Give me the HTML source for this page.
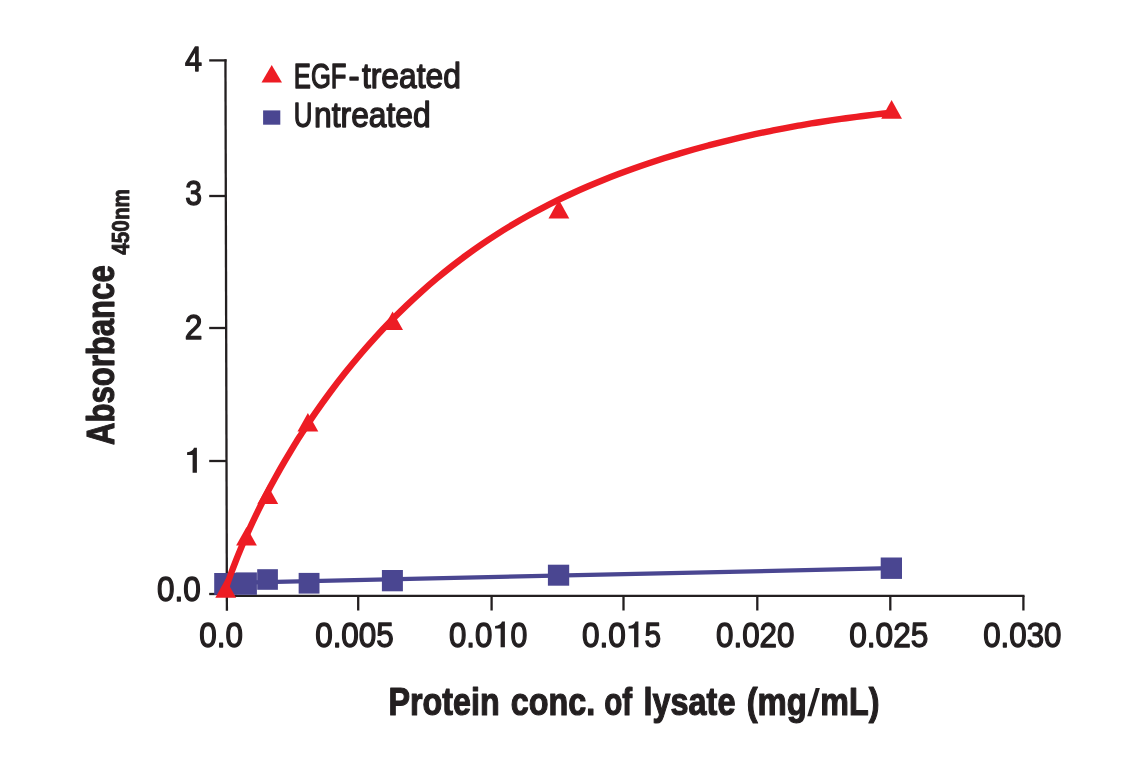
<!DOCTYPE html>
<html><head><meta charset="utf-8"><title>Chart</title>
<style>
html,body{margin:0;padding:0;background:#fff;}
body{width:1141px;height:768px;overflow:hidden;font-family:"Liberation Sans",sans-serif;}
svg{display:block;will-change:transform;}
</style></head><body>
<svg width="1141" height="768" viewBox="0 0 1141 768">
<rect width="1141" height="768" fill="#ffffff"/>
<g stroke="#231f20" stroke-width="2.3" fill="none" stroke-linecap="butt">
<path d="M225.45,59.3 L226.9,610.8"/>
<path d="M225.7,595.8 L1024.5,595.8"/>
<path d="M209.2,60.4 L226.5,60.4"/>
<path d="M209.2,196.0 L226.5,196.0"/>
<path d="M209.2,328.0 L226.5,328.0"/>
<path d="M209.2,461.0 L226.5,461.0"/>
<path d="M209.2,594.0 L226.5,594.0"/>
<path d="M358.2,595.8 L358.2,610.5"/>
<path d="M491.6,595.8 L491.6,610.5"/>
<path d="M623.5,595.8 L623.5,610.5"/>
<path d="M757.3,595.8 L757.3,610.5"/>
<path d="M890.3,595.8 L890.3,610.5"/>
<path d="M1023.4,595.8 L1023.4,610.5"/>
</g>
<path d="M225,583.0 L891.4,568.2" stroke="#4a4691" stroke-width="4.2" fill="none"/>
<rect x="214.20" y="573.00" width="22.30" height="21.80" fill="#4a4691"/>
<rect x="235.50" y="572.40" width="21.40" height="22.40" fill="#4a4691"/>
<rect x="257.20" y="569.20" width="20.70" height="20.60" fill="#4a4691"/>
<rect x="298.65" y="572.90" width="20.85" height="20.70" fill="#4a4691"/>
<rect x="381.90" y="570.00" width="21.00" height="21.30" fill="#4a4691"/>
<rect x="547.90" y="564.70" width="21.30" height="21.00" fill="#4a4691"/>
<rect x="880.70" y="557.50" width="21.30" height="21.40" fill="#4a4691"/>
<path d="M225.80,588.43 C226.62,586.06 229.10,578.77 230.75,574.23 C232.40,569.70 234.04,565.41 235.69,561.22 C237.34,557.02 238.99,553.00 240.64,549.05 C242.29,545.10 243.94,541.29 245.59,537.54 C247.24,533.80 248.88,530.16 250.53,526.58 C252.18,523.00 253.83,519.51 255.48,516.08 C257.13,512.65 258.78,509.29 260.43,505.99 C262.08,502.68 263.72,499.45 265.37,496.26 C267.02,493.07 268.67,489.94 270.32,486.85 C271.97,483.77 273.62,480.74 275.27,477.75 C276.92,474.77 278.56,471.83 280.21,468.93 C281.86,466.03 283.51,463.18 285.16,460.37 C286.81,457.55 288.46,454.78 290.11,452.04 C291.76,449.31 293.40,446.61 295.05,443.95 C296.70,441.29 296.65,441.21 300.00,436.08 C303.35,430.95 310.11,420.53 315.17,413.19 C320.22,405.84 325.28,398.82 330.33,392.01 C335.39,385.20 340.44,378.66 345.50,372.33 C350.56,365.99 355.61,359.90 360.67,353.99 C365.72,348.08 370.78,342.38 375.83,336.86 C380.89,331.33 385.94,326.01 391.00,320.84 C396.06,315.67 401.11,310.68 406.17,305.85 C411.22,301.01 416.28,296.34 421.33,291.81 C426.39,287.28 431.44,282.91 436.50,278.67 C441.56,274.43 446.61,270.34 451.67,266.37 C456.72,262.40 461.78,258.57 466.83,254.86 C471.89,251.16 476.94,247.58 482.00,244.12 C487.06,240.65 492.11,237.32 497.17,234.09 C502.22,230.86 507.28,227.75 512.33,224.74 C517.39,221.72 522.44,218.82 527.50,216.00 C532.56,213.19 537.61,210.47 542.67,207.84 C547.72,205.20 552.78,202.66 557.83,200.19 C562.89,197.72 567.94,195.34 573.00,193.03 C578.06,190.71 583.11,188.48 588.17,186.30 C593.22,184.13 598.28,182.03 603.33,179.99 C608.39,177.95 613.44,175.98 618.50,174.06 C623.56,172.15 628.61,170.29 633.67,168.49 C638.72,166.69 643.78,164.94 648.83,163.24 C653.89,161.55 658.94,159.91 664.00,158.31 C669.06,156.71 674.11,155.17 679.17,153.66 C684.22,152.16 689.28,150.70 694.33,149.28 C699.39,147.87 704.44,146.50 709.50,145.16 C714.56,143.83 719.61,142.54 724.67,141.29 C729.72,140.03 734.78,138.82 739.83,137.65 C744.89,136.47 749.94,135.34 755.00,134.24 C760.06,133.14 765.11,132.08 770.17,131.05 C775.22,130.03 780.28,129.04 785.33,128.08 C790.39,127.12 795.44,126.20 800.50,125.32 C805.56,124.43 810.61,123.58 815.67,122.75 C820.72,121.93 825.78,121.15 830.83,120.39 C835.89,119.63 840.94,118.91 846.00,118.21 C851.06,117.52 856.11,116.86 861.17,116.23 C866.22,115.59 871.28,114.99 876.33,114.42 C881.39,113.85 888.97,113.06 891.50,112.79" stroke="#ed1c24" stroke-width="6.4" fill="none" stroke-linejoin="round"/>
<path d="M215.30,597.70 L236.10,597.70 L225.70,579.10 Z" fill="#ed1c24"/>
<path d="M236.10,545.60 L256.90,545.60 L246.50,527.00 Z" fill="#ed1c24"/>
<path d="M257.40,504.10 L278.20,504.10 L267.80,485.50 Z" fill="#ed1c24"/>
<path d="M297.50,431.60 L318.30,431.60 L307.90,413.00 Z" fill="#ed1c24"/>
<path d="M382.20,330.00 L403.00,330.00 L392.60,311.40 Z" fill="#ed1c24"/>
<path d="M548.50,218.40 L569.30,218.40 L558.90,199.80 Z" fill="#ed1c24"/>
<path d="M881.20,118.70 L902.00,118.70 L891.60,100.10 Z" fill="#ed1c24"/>
<path d="M261.5,82.5 L282,82.5 L271.7,65.1 Z" fill="#ed1c24"/>
<rect x="263.1" y="110.4" width="17.2" height="14.3" fill="#4a4691"/>
<g fill="#231f20" stroke="#231f20" stroke-linejoin="round" font-family="Liberation Sans, sans-serif">
<text transform="translate(293.79,88.30) scale(0.7256,1)" font-size="35.36" font-weight="normal" stroke-width="1.4">EGF</text>
<text transform="translate(348.56,88.30) scale(0.9423,1)" font-size="35.36" font-weight="normal" stroke-width="1.4">-</text>
<text transform="translate(361.95,88.30) scale(0.8986,1)" font-size="35.36" font-weight="normal" stroke-width="1.4">treated</text>
<text transform="translate(293.81,127.40) scale(0.7313,1)" font-size="35.36" font-weight="normal" stroke-width="1.4">U</text>
<text transform="translate(314.08,127.40) scale(0.8989,1)" font-size="35.36" font-weight="normal" stroke-width="1.4">ntreated</text>
<text transform="translate(185.09,71.42) scale(0.8561,1)" font-size="35.72" font-weight="normal" stroke-width="1.35">4</text>
<text transform="translate(185.14,204.82) scale(0.8461,1)" font-size="35.72" font-weight="normal" stroke-width="1.35">3</text>
<text transform="translate(184.71,338.72) scale(0.8918,1)" font-size="35.72" font-weight="normal" stroke-width="1.35">2</text>
<path stroke="none" d="M196.90,472.80 L196.90,447.80 L194.00,447.80 Q192.80,451.50 187.10,452.30 L187.10,454.90 L192.60,454.90 L192.60,472.80 Z"/>
<text transform="translate(156.94,600.83) scale(0.8810,1)" font-size="35.72" font-weight="normal" stroke-width="1.35">0.0</text>
<text transform="translate(199.34,646.83) scale(0.8790,1)" font-size="35.72" font-weight="normal" stroke-width="1.35">0.0</text>
<text transform="translate(315.14,646.83) scale(0.8806,1)" font-size="35.72" font-weight="normal" stroke-width="1.35">0.005</text>
<text transform="translate(716.04,646.83) scale(0.8774,1)" font-size="35.72" font-weight="normal" stroke-width="1.35">0.020</text>
<text transform="translate(849.23,646.83) scale(0.8852,1)" font-size="35.72" font-weight="normal" stroke-width="1.35">0.025</text>
<text transform="translate(983.24,646.83) scale(0.8752,1)" font-size="35.72" font-weight="normal" stroke-width="1.35">0.030</text>
<text transform="translate(448.94,646.83) scale(0.8748,1)" font-size="35.72" font-weight="normal" stroke-width="1.35">0.0</text>
<path stroke="none" d="M504.90,647.20 L504.90,621.40 L502.00,621.40 Q500.80,625.10 495.10,625.90 L495.10,628.50 L500.60,628.50 L500.60,647.20 Z"/>
<text transform="translate(510.56,646.83) scale(0.8474,1)" font-size="35.72" font-weight="normal" stroke-width="1.35">0</text>
<text transform="translate(582.03,646.83) scale(0.8831,1)" font-size="35.72" font-weight="normal" stroke-width="1.35">0.0</text>
<path stroke="none" d="M638.40,647.20 L638.40,621.40 L635.50,621.40 Q634.30,625.10 628.60,625.90 L628.60,628.50 L634.10,628.50 L634.10,647.20 Z"/>
<text transform="translate(644.57,646.83) scale(0.8352,1)" font-size="35.72" font-weight="normal" stroke-width="1.35">5</text>
<text transform="translate(388.42,715.40) scale(0.8413,1)" font-size="38.41" font-weight="bold" stroke-width="1.2">Protein</text>
<text transform="translate(510.71,715.40) scale(0.8418,1)" font-size="38.41" font-weight="bold" stroke-width="1.2">conc.</text>
<text transform="translate(604.18,715.40) scale(0.7704,1)" font-size="38.41" font-weight="bold" stroke-width="1.2">of</text>
<text transform="translate(643.54,715.40) scale(0.8441,1)" font-size="38.41" font-weight="bold" stroke-width="1.2">lysate</text>
<text transform="translate(746.67,715.40) scale(0.8561,1)" font-size="38.41" font-weight="bold" stroke-width="1.2">(mg</text>
<path d="M807.2,716.3 L811.4,716.3 L819.9,688.1 L815.7,688.1 Z" stroke="none"/>
<text transform="translate(820.31,715.40) scale(0.8398,1)" font-size="38.41" font-weight="bold" stroke-width="1.2">mL)</text>
<text transform="translate(114.00,445.09) rotate(-90) scale(0.8104,1)" font-size="38.41" font-weight="bold" stroke-width="1.2">Absorbance</text>
<text transform="translate(128.55,254.73) rotate(-90) scale(0.8531,1)" font-size="24.35" font-weight="bold" stroke-width="0.9">450nm</text>
</g>
</svg>
</body></html>
